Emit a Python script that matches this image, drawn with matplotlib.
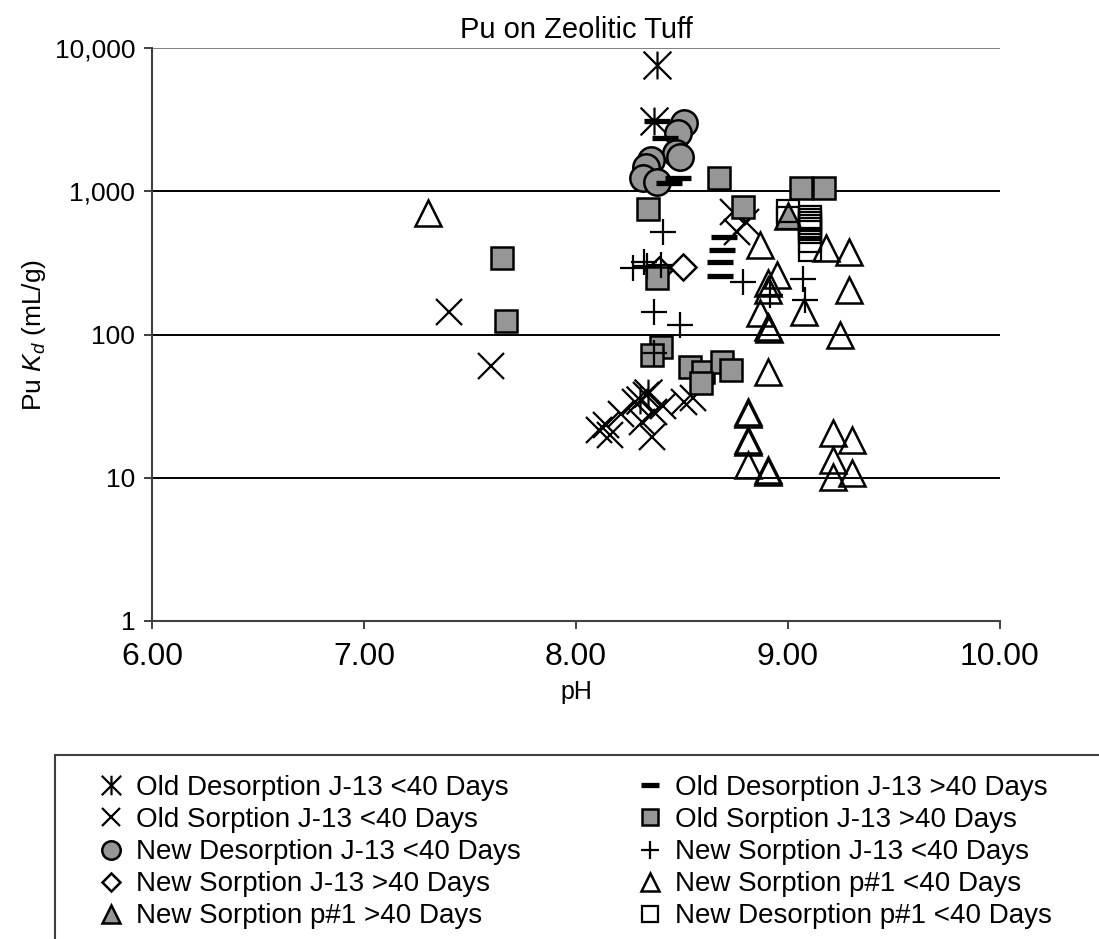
import matplotlib
matplotlib.use("Agg")
import matplotlib.pyplot as plt
from matplotlib.path import Path
from matplotlib.patches import Rectangle
from matplotlib.ticker import FixedLocator, FixedFormatter

plt.rcParams["font.family"] = ["Liberation Sans", "DejaVu Sans"]
plt.rcParams["mathtext.fontset"] = "custom"
plt.rcParams["mathtext.rm"] = "Liberation Sans"
plt.rcParams["mathtext.it"] = "Liberation Sans:italic"

# -----------------------------
# Data (pH, Kd in mL/g)
# -----------------------------

old_des_lt40_ph = [8.38, 8.37, 8.30, 8.34]
old_des_lt40_kd = [7600, 3100, 35, 39]

old_des_gt40_ph = [8.38, 8.42, 8.48, 8.44, 8.70, 8.69, 8.68, 8.68]
old_des_gt40_kd = [3100, 2360, 1240, 1140, 480, 389, 321, 256]

old_sorp_lt40_ph = [7.40, 7.60, 8.76, 8.80, 8.74, 8.14, 8.16, 8.11, 8.21, 8.28,
                    8.33, 8.31, 8.37, 8.41, 8.36, 8.51, 8.55]
old_sorp_lt40_kd = [144, 60, 520, 610, 716, 23.3, 19.9, 21.5, 27.9, 33.8,
                    37.8, 24.5, 28.8, 31.7, 19.2, 33.8, 36]

old_sorp_gt40_ph = [7.65, 7.67, 8.34, 8.38, 8.675, 9.06, 9.17, 8.79, 8.40, 8.36,
                    8.54, 8.60, 8.69, 8.73, 8.59]
old_sorp_gt40_kd = [342, 124, 751, 248, 1237, 1055, 1055, 776, 82, 72,
                    59, 55, 64, 56.5, 45.8]

new_des_j13_ph = [8.51, 8.48, 8.47, 8.49, 8.355, 8.33, 8.315, 8.38]
new_des_j13_kd = [2990, 2550, 1850, 1735, 1650, 1475, 1237, 1160]

new_sorp_j13_lt40_ph = [8.41, 8.27, 8.32, 8.335, 8.40, 8.37, 8.49, 8.37, 8.79, 9.07, 9.08, 8.915]
new_sorp_j13_lt40_kd = [520, 291, 321, 301, 306, 143, 116, 74, 233, 244, 174, 189]

new_sorp_j13_gt40_ph = [8.505, 8.39]
new_sorp_j13_gt40_kd = [296, 282]

new_sorp_p1_lt40_ph = [7.30, 8.87, 8.95, 8.905, 8.905, 8.87, 8.905, 8.91, 9.18, 9.29,
                       9.29, 9.075, 9.245, 8.905, 8.81, 8.81, 8.81, 8.81, 8.81, 8.905,
                       8.905, 9.21, 9.30, 9.21, 9.30, 9.21]
new_sorp_p1_lt40_kd = [705, 422, 260, 229, 205, 141, 113, 110, 402, 377,
                       205, 144, 99, 55, 28.8, 28, 18.4, 17.8, 12.3, 11.3,
                       11.0, 20.5, 18.4, 13.3, 10.8, 10.1]

new_sorp_p1_gt40_ph = [9.00]
new_sorp_p1_gt40_kd = [672]

new_des_p1_ph = [9.00, 9.00, 9.104, 9.104, 9.104, 9.104, 9.104, 9.104, 9.104, 9.104]
new_des_p1_kd = [728, 646, 660, 630, 600, 572, 545, 520, 450, 389]

y_ticks = [1, 10, 100, 1000, 10000]
y_labels = ["1", "10", "100", "1,000", "10,000"]
x_ticks = [6, 7, 8, 9, 10]
x_labels = ["6.00", "7.00", "8.00", "9.00", "10.00"]

# -----------------------------
# Plot
# -----------------------------

GRAY = "#969696"
star = Path([(0, -1), (0, 1), (-1, -1), (1, 1), (-1, 1), (1, -1)],
            [Path.MOVETO, Path.LINETO] * 3)

fig = plt.figure(figsize=(10.99, 9.39), dpi=100)
ax = fig.add_axes([152 / 1099, 1 - 621 / 939, 848 / 1099, 573 / 939])

for y in [10, 100, 1000]:
    ax.axhline(y, color="black", lw=1.4, zorder=1)
ax.axhline(10000, color="#808080", lw=1.4, zorder=1)

series = [
    dict(x=old_des_lt40_ph, y=old_des_lt40_kd, marker=star, ms=20, mfc="none", mec="black", mew=1.6,
         label="Old Desorption J-13 <40 Days"),
    dict(x=old_sorp_lt40_ph, y=old_sorp_lt40_kd, marker="x", ms=19, mfc="none", mec="black", mew=1.6,
         label="Old Sorption J-13 <40 Days"),
    dict(x=new_des_j13_ph, y=new_des_j13_kd, marker="o", ms=19, mfc=GRAY, mec="black", mew=1.8,
         label="New Desorption J-13 <40 Days"),
    dict(x=new_sorp_j13_gt40_ph, y=new_sorp_j13_gt40_kd, marker="D", ms=13.5, mfc="none", mec="black", mew=1.8,
         label="New Sorption J-13 >40 Days"),
    dict(x=new_sorp_p1_gt40_ph, y=new_sorp_p1_gt40_kd, marker="^", ms=19, mfc=GRAY, mec="black", mew=1.8,
         label="New Sorption p#1 >40 Days"),
    dict(x=old_des_gt40_ph, y=old_des_gt40_kd, marker="_", ms=19, mfc="none", mec="black", mew=3.8,
         label="Old Desorption J-13 >40 Days"),
    dict(x=old_sorp_gt40_ph, y=old_sorp_gt40_kd, marker="s", ms=16, mfc=GRAY, mec="black", mew=1.8,
         label="Old Sorption J-13 >40 Days"),
    dict(x=new_sorp_j13_lt40_ph, y=new_sorp_j13_lt40_kd, marker="+", ms=19, mfc="none", mec="black", mew=1.6,
         label="New Sorption J-13 <40 Days"),
    dict(x=new_sorp_p1_lt40_ph, y=new_sorp_p1_lt40_kd, marker="^", ms=19, mfc="none", mec="black", mew=1.8,
         label="New Sorption p#1 <40 Days"),
    dict(x=new_des_p1_ph, y=new_des_p1_kd, marker="s", ms=16, mfc="none", mec="black", mew=1.6,
         label="New Desorption p#1 <40 Days"),
]

handles = []
for s in series:
    h, = ax.plot(s["x"], s["y"], linestyle="none", marker=s["marker"], markersize=s["ms"],
                 markerfacecolor=s["mfc"], markeredgecolor=s["mec"], markeredgewidth=s["mew"],
                 label=s["label"], zorder=3, clip_on=False)
    handles.append(h)

ax.set_yscale("log")
ax.set_ylim(1, 10000)
ax.set_xlim(6, 10)
ax.yaxis.set_major_locator(FixedLocator(y_ticks))
ax.yaxis.set_major_formatter(FixedFormatter(y_labels))
ax.yaxis.set_minor_locator(FixedLocator([]))
ax.xaxis.set_major_locator(FixedLocator(x_ticks))
ax.xaxis.set_major_formatter(FixedFormatter(x_labels))

for side in ["top", "right"]:
    ax.spines[side].set_visible(False)
ax.spines["left"].set_color("#404040")
ax.spines["bottom"].set_color("#404040")
ax.spines["left"].set_linewidth(1.5)
ax.spines["bottom"].set_linewidth(1.5)

ax.tick_params(axis="y", direction="out", length=6, width=1.4, color="#404040", labelsize=19, pad=6)
ax.tick_params(axis="x", direction="out", length=6, width=1.4, color="#404040", labelsize=23, pad=9)

ax.set_title("Pu on Zeolitic Tuff", fontsize=21, pad=7)
ax.set_xlabel("pH", fontsize=18, labelpad=6)
ax.set_ylabel(r"Pu $K_d$ (mL/g)", fontsize=19, labelpad=5)

# legend box running off the page
fig.patches.append(Rectangle((55 / 1099, -0.1), 1.1, 0.1 + 1 - 755 / 939,
                             transform=fig.transFigure, fill=False, edgecolor="#404040",
                             lw=1.5, clip_on=False))

fig.legend(handles=handles, loc="upper left", bbox_to_anchor=(96 / 1099, 1 - 775 / 939),
           ncol=2, frameon=False, fontsize=20, markerscale=0.7, handlelength=1.05,
           handletextpad=0.4, labelspacing=0.22, columnspacing=4.1, borderpad=0,
           borderaxespad=0)

fig.savefig("out.png", dpi=100)
